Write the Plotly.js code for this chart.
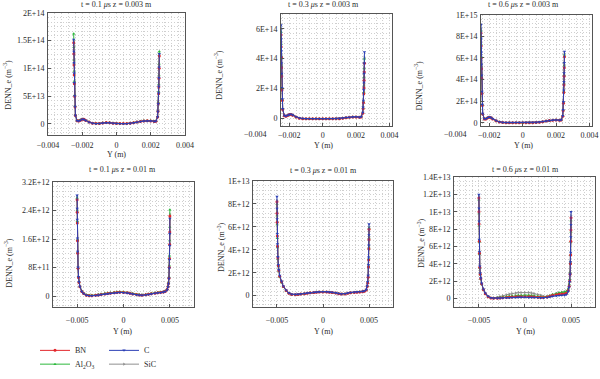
<!DOCTYPE html>
<html><head><meta charset="utf-8">
<script src="https://cdn.plot.ly/plotly-3.0.1.min.js"></script>
<style>html,body{margin:0;padding:0;background:#fff}#chart{width:600px;height:379px}</style>
</head><body><div id="chart"></div>
<script>
// ---------- data ----------
const seriesNames = ['BN', 'Al<sub>2</sub>O<sub>3</sub>', 'C', 'SiC'];
const seriesColors = ['#e3262b', '#2db83d', '#2b3fb5', '#8f8f8f'];
const seriesSymbols = ['circle', 'triangle-up', 'triangle-down', 'triangle-right'];
const panelTitles = [
  't = 0.1 <i>μ</i>s z = 0.003 m', 't = 0.3 <i>μ</i>s z = 0.003 m', 't = 0.6 <i>μ</i>s z = 0.003 m',
  't = 0.1 <i>μ</i>s z = 0.01 m', 't = 0.3 <i>μ</i>s z = 0.01 m', 't = 0.6 <i>μ</i>s z = 0.01 m'
];
const xTitle = 'Y (m)';
const yTitle = 'DENN_e (m<sup>−3</sup>)';

const xTop = [-0.0025, -0.00249, -0.00248, -0.00247, -0.00246, -0.00244, -0.00242, -0.0024, -0.0023, -0.0022, -0.0021, -0.002, -0.0019, -0.0018, -0.0016, -0.0014, -0.0012, -0.001, -0.0008, -0.0006, -0.0004, -0.0002, 0, 0.0002, 0.0004, 0.0006, 0.0008, 0.001, 0.0012, 0.0014, 0.0016, 0.0018, 0.002, 0.0022, 0.0023, 0.0024, 0.00242, 0.00244, 0.00246, 0.00247, 0.00248, 0.00249, 0.0025];
const xBottom = [-0.005, -0.00499, -0.00498, -0.00496, -0.00494, -0.0049, -0.00485, -0.0048, -0.0047, -0.0045, -0.0043, -0.004, -0.0037, -0.0034, -0.003, -0.0027, -0.0024, -0.002, -0.0017, -0.0014, -0.001, -0.0007, -0.0004, 0, 0.0004, 0.0007, 0.001, 0.0014, 0.0017, 0.002, 0.0024, 0.0027, 0.003, 0.0034, 0.0037, 0.004, 0.0043, 0.0045, 0.0047, 0.0048, 0.00485, 0.0049, 0.00494, 0.00496, 0.00498, 0.00499, 0.005];

// panel 1: t = 0.1 us, z = 0.003 m
const p1BN  = [14.6e13,12.6e13,10.6e13,8.8e13,7.2e13,4.9e13,3.0e13,1.5e13,0.55e13,0.5e13,0.65e13,0.8e13,0.8e13,0.6e13,0.3e13,0.1e13,0.02e13,0.05e13,0.15e13,0.2e13,0.18e13,0.1e13,0.04e13,0.02e13,0.02e13,0.03e13,0.08e13,0.18e13,0.3e13,0.42e13,0.5e13,0.52e13,0.5e13,0.42e13,0.45e13,1.2e13,2.2e13,3.6e13,5.4e13,6.6e13,8.2e13,10.0e13,12.2e13];
const p1Al  = [16.2e13,13.8e13,11.5e13,9.5e13,7.7e13,5.2e13,3.2e13,1.6e13,0.6e13,0.55e13,0.7e13,0.85e13,0.82e13,0.62e13,0.3e13,0.1e13,0.03e13,0.06e13,0.16e13,0.22e13,0.2e13,0.12e13,0.05e13,0.03e13,0.03e13,0.04e13,0.1e13,0.2e13,0.32e13,0.44e13,0.52e13,0.55e13,0.55e13,0.45e13,0.5e13,1.3e13,2.4e13,3.9e13,5.8e13,7.1e13,8.8e13,10.8e13,13.0e13];
const p1C   = [15.2e13,13.0e13,11.0e13,9.1e13,7.4e13,5.0e13,3.1e13,1.5e13,0.55e13,0.5e13,0.65e13,0.8e13,0.78e13,0.58e13,0.28e13,0.08e13,0.0,0.03e13,0.12e13,0.18e13,0.16e13,0.08e13,0.02e13,0.0,0.0,0.01e13,0.06e13,0.15e13,0.28e13,0.4e13,0.48e13,0.5e13,0.5e13,0.4e13,0.45e13,1.2e13,2.2e13,3.6e13,5.5e13,6.7e13,8.3e13,10.2e13,12.6e13];
const p1SiC = [14.9e13,12.8e13,10.8e13,9.0e13,7.3e13,5.0e13,3.1e13,1.5e13,0.55e13,0.5e13,0.65e13,0.8e13,0.8e13,0.6e13,0.3e13,0.1e13,0.02e13,0.05e13,0.15e13,0.2e13,0.18e13,0.1e13,0.04e13,0.02e13,0.02e13,0.03e13,0.08e13,0.18e13,0.3e13,0.42e13,0.5e13,0.52e13,0.52e13,0.42e13,0.45e13,1.2e13,2.3e13,3.7e13,5.6e13,6.8e13,8.5e13,10.4e13,12.5e13];

// panel 2: t = 0.3 us, z = 0.003 m
const p2BN  = [5.6e14,4.8e14,4.1e14,3.4e14,2.8e14,1.9e14,1.2e14,0.6e14,0.18e14,0.15e14,0.2e14,0.26e14,0.27e14,0.22e14,0.1e14,0.02e14,-0.01e14,-0.02e14,-0.02e14,-0.02e14,-0.02e14,-0.02e14,-0.02e14,-0.02e14,-0.02e14,-0.02e14,-0.02e14,-0.01e14,0.02e14,0.05e14,0.08e14,0.1e14,0.1e14,0.08e14,0.1e14,0.35e14,0.65e14,1.05e14,1.65e14,2.05e14,2.55e14,3.1e14,3.7e14];
const p2Al  = [5.8e14,5.0e14,4.2e14,3.5e14,2.9e14,2.0e14,1.25e14,0.62e14,0.18e14,0.15e14,0.2e14,0.26e14,0.27e14,0.22e14,0.1e14,0.02e14,-0.01e14,-0.02e14,-0.02e14,-0.02e14,-0.02e14,-0.02e14,-0.02e14,-0.02e14,-0.02e14,-0.02e14,-0.02e14,-0.01e14,0.02e14,0.05e14,0.08e14,0.1e14,0.1e14,0.08e14,0.1e14,0.38e14,0.7e14,1.1e14,1.75e14,2.2e14,2.75e14,3.35e14,4.0e14];
const p2C   = [6.25e14,5.3e14,4.5e14,3.7e14,3.0e14,2.05e14,1.3e14,0.65e14,0.2e14,0.16e14,0.21e14,0.27e14,0.28e14,0.23e14,0.11e14,0.03e14,0.0,-0.01e14,-0.01e14,-0.01e14,-0.01e14,-0.01e14,-0.01e14,-0.01e14,-0.01e14,-0.01e14,-0.01e14,0.0,0.03e14,0.06e14,0.09e14,0.11e14,0.11e14,0.09e14,0.11e14,0.4e14,0.75e14,1.2e14,1.9e14,2.4e14,3.0e14,3.7e14,4.45e14];
const p2SiC = [6.0e14,5.1e14,4.3e14,3.6e14,2.95e14,2.0e14,1.25e14,0.62e14,0.18e14,0.15e14,0.2e14,0.26e14,0.27e14,0.22e14,0.1e14,0.02e14,-0.01e14,-0.02e14,-0.02e14,-0.02e14,-0.02e14,-0.02e14,-0.02e14,-0.02e14,-0.02e14,-0.02e14,-0.02e14,-0.01e14,0.02e14,0.05e14,0.08e14,0.1e14,0.1e14,0.08e14,0.1e14,0.38e14,0.7e14,1.12e14,1.8e14,2.25e14,2.8e14,3.4e14,4.1e14];

// panel 3: t = 0.6 us, z = 0.003 m
const p3BN  = [8.3e14,7.1e14,6.0e14,5.0e14,4.1e14,2.7e14,1.6e14,0.8e14,0.35e14,0.35e14,0.45e14,0.5e14,0.45e14,0.35e14,0.18e14,0.07e14,0.02e14,0.0,0.0,0.0,0.0,0.0,0.0,0.0,0.0,0.0,0.02e14,0.05e14,0.1e14,0.15e14,0.2e14,0.24e14,0.25e14,0.22e14,0.25e14,0.6e14,1.1e14,1.8e14,2.8e14,3.5e14,4.3e14,5.1e14,6.1e14];
const p3Al  = [8.5e14,7.3e14,6.1e14,5.1e14,4.2e14,2.75e14,1.65e14,0.82e14,0.36e14,0.36e14,0.46e14,0.51e14,0.46e14,0.36e14,0.18e14,0.07e14,0.02e14,0.0,0.0,0.0,0.0,0.0,0.0,0.0,0.0,0.0,0.02e14,0.05e14,0.1e14,0.15e14,0.2e14,0.24e14,0.25e14,0.22e14,0.25e14,0.62e14,1.15e14,1.85e14,2.9e14,3.6e14,4.4e14,5.3e14,6.3e14];
const p3C   = [9.1e14,7.8e14,6.5e14,5.4e14,4.4e14,2.9e14,1.7e14,0.85e14,0.37e14,0.37e14,0.47e14,0.52e14,0.48e14,0.38e14,0.2e14,0.08e14,0.03e14,0.01e14,0.01e14,0.01e14,0.01e14,0.01e14,0.01e14,0.01e14,0.01e14,0.01e14,0.03e14,0.06e14,0.11e14,0.16e14,0.21e14,0.25e14,0.26e14,0.23e14,0.26e14,0.65e14,1.2e14,1.95e14,3.0e14,3.8e14,4.6e14,5.55e14,6.6e14];
const p3SiC = [8.7e14,7.5e14,6.3e14,5.2e14,4.3e14,2.8e14,1.65e14,0.82e14,0.35e14,0.35e14,0.45e14,0.5e14,0.46e14,0.36e14,0.18e14,0.07e14,0.02e14,0.0,0.0,0.0,0.0,0.0,0.0,0.0,0.0,0.0,0.02e14,0.05e14,0.1e14,0.15e14,0.2e14,0.24e14,0.25e14,0.22e14,0.25e14,0.62e14,1.15e14,1.9e14,2.95e14,3.7e14,4.5e14,5.4e14,6.4e14];

// panel 4: t = 0.1 us, z = 0.01 m
const p4BN  = [27e11,23.5e11,20.5e11,15.5e11,12e11,7.8e11,5.2e11,3.8e11,2.6e11,1.3e11,0.7e11,0.25e11,0.1e11,0.1e11,0.2e11,0.3e11,0.45e11,0.6e11,0.7e11,0.8e11,0.9e11,1.0e11,1.05e11,1.0e11,0.9e11,0.75e11,0.6e11,0.4e11,0.3e11,0.25e11,0.35e11,0.5e11,0.65e11,0.8e11,0.9e11,1.0e11,1.1e11,1.3e11,1.8e11,2.6e11,3.5e11,5.0e11,8.0e11,10.5e11,14.5e11,18.0e11,22.5e11];
const p4Al  = [27.5e11,24e11,21e11,15.8e11,12.2e11,7.9e11,5.3e11,3.9e11,2.7e11,1.4e11,0.8e11,0.35e11,0.2e11,0.2e11,0.3e11,0.45e11,0.6e11,0.75e11,0.85e11,0.95e11,1.05e11,1.15e11,1.2e11,1.15e11,1.0e11,0.85e11,0.7e11,0.5e11,0.4e11,0.35e11,0.45e11,0.6e11,0.75e11,0.9e11,1.0e11,1.1e11,1.2e11,1.4e11,1.9e11,2.8e11,3.8e11,5.4e11,8.6e11,11.3e11,15.6e11,19.4e11,24.2e11];
const p4C   = [28.3e11,24.6e11,21.5e11,16.2e11,12.5e11,8.1e11,5.4e11,4.0e11,2.7e11,1.3e11,0.7e11,0.2e11,0.05e11,0.05e11,0.15e11,0.25e11,0.4e11,0.55e11,0.65e11,0.75e11,0.85e11,0.95e11,1.0e11,0.95e11,0.85e11,0.7e11,0.55e11,0.35e11,0.25e11,0.2e11,0.3e11,0.45e11,0.6e11,0.75e11,0.85e11,0.95e11,1.05e11,1.25e11,1.7e11,2.5e11,3.4e11,4.9e11,7.8e11,10.2e11,14.1e11,17.5e11,21.8e11];
const p4SiC = [27.8e11,24.2e11,21.1e11,15.9e11,12.3e11,8.0e11,5.3e11,3.9e11,2.7e11,1.35e11,0.75e11,0.3e11,0.15e11,0.15e11,0.25e11,0.35e11,0.5e11,0.65e11,0.75e11,0.85e11,0.95e11,1.05e11,1.1e11,1.05e11,0.95e11,0.8e11,0.65e11,0.45e11,0.35e11,0.3e11,0.4e11,0.55e11,0.7e11,0.85e11,0.95e11,1.05e11,1.15e11,1.35e11,1.8e11,2.7e11,3.6e11,5.1e11,8.2e11,10.8e11,14.9e11,18.5e11,23.0e11];

// panel 5: t = 0.3 us, z = 0.01 m
const p5BN  = [8.2e12,7.2e12,6.4e12,5.2e12,4.3e12,3.3e12,2.6e12,2.2e12,1.7e12,1.2e12,0.8e12,0.45e12,0.2e12,0.1e12,0.08e12,0.1e12,0.13e12,0.17e12,0.2e12,0.24e12,0.27e12,0.3e12,0.31e12,0.32e12,0.31e12,0.29e12,0.27e12,0.22e12,0.17e12,0.13e12,0.15e12,0.2e12,0.25e12,0.28e12,0.3e12,0.32e12,0.34e12,0.38e12,0.5e12,0.8e12,1.1e12,1.6e12,2.5e12,3.1e12,4.1e12,4.9e12,5.8e12];
const p5Al  = [8.0e12,7.0e12,6.2e12,5.0e12,4.2e12,3.2e12,2.55e12,2.15e12,1.65e12,1.15e12,0.78e12,0.43e12,0.2e12,0.1e12,0.08e12,0.1e12,0.13e12,0.18e12,0.21e12,0.25e12,0.28e12,0.31e12,0.32e12,0.33e12,0.32e12,0.3e12,0.28e12,0.23e12,0.18e12,0.14e12,0.16e12,0.21e12,0.26e12,0.29e12,0.31e12,0.33e12,0.35e12,0.39e12,0.52e12,0.82e12,1.12e12,1.65e12,2.55e12,3.2e12,4.2e12,5.0e12,5.9e12];
const p5C   = [8.65e12,7.6e12,6.7e12,5.4e12,4.5e12,3.4e12,2.7e12,2.25e12,1.75e12,1.25e12,0.82e12,0.47e12,0.22e12,0.12e12,0.1e12,0.12e12,0.15e12,0.19e12,0.22e12,0.26e12,0.29e12,0.32e12,0.33e12,0.34e12,0.33e12,0.31e12,0.29e12,0.24e12,0.19e12,0.15e12,0.17e12,0.22e12,0.27e12,0.3e12,0.32e12,0.34e12,0.36e12,0.4e12,0.53e12,0.85e12,1.2e12,1.75e12,2.7e12,3.35e12,4.4e12,5.3e12,6.25e12];
const p5SiC = [8.3e12,7.3e12,6.5e12,5.2e12,4.3e12,3.3e12,2.6e12,2.2e12,1.7e12,1.2e12,0.8e12,0.45e12,0.2e12,0.1e12,0.08e12,0.1e12,0.13e12,0.17e12,0.2e12,0.24e12,0.27e12,0.3e12,0.31e12,0.32e12,0.31e12,0.29e12,0.27e12,0.22e12,0.17e12,0.13e12,0.15e12,0.2e12,0.25e12,0.28e12,0.3e12,0.32e12,0.34e12,0.38e12,0.5e12,0.8e12,1.15e12,1.7e12,2.6e12,3.2e12,4.25e12,5.1e12,6.0e12];

// panel 6: t = 0.6 us, z = 0.01 m
const p6BN  = [11.6e12,10.0e12,8.6e12,6.6e12,5.2e12,3.6e12,2.8e12,2.3e12,1.7e12,1.0e12,0.55e12,0.2e12,0.05e12,0.02e12,0.03e12,0.05e12,0.08e12,0.11e12,0.14e12,0.16e12,0.18e12,0.19e12,0.2e12,0.2e12,0.19e12,0.18e12,0.16e12,0.13e12,0.11e12,0.1e12,0.15e12,0.25e12,0.35e12,0.42e12,0.47e12,0.5e12,0.52e12,0.6e12,0.9e12,1.4e12,2.0e12,2.8e12,4.0e12,5.0e12,6.6e12,7.9e12,9.3e12];
const p6Al  = [11.4e12,9.8e12,8.4e12,6.5e12,5.1e12,3.5e12,2.75e12,2.25e12,1.65e12,1.0e12,0.55e12,0.22e12,0.06e12,0.04e12,0.08e12,0.12e12,0.17e12,0.23e12,0.27e12,0.31e12,0.34e12,0.36e12,0.37e12,0.37e12,0.36e12,0.34e12,0.3e12,0.24e12,0.19e12,0.15e12,0.2e12,0.32e12,0.45e12,0.56e12,0.64e12,0.7e12,0.74e12,0.8e12,1.1e12,1.6e12,2.2e12,3.0e12,4.1e12,5.0e12,6.5e12,7.7e12,9.0e12];
const p6C   = [12.0e12,10.4e12,8.9e12,6.8e12,5.4e12,3.7e12,2.9e12,2.35e12,1.75e12,1.05e12,0.6e12,0.25e12,0.08e12,0.03e12,0.02e12,0.03e12,0.05e12,0.07e12,0.08e12,0.1e12,0.11e12,0.12e12,0.12e12,0.12e12,0.11e12,0.1e12,0.09e12,0.07e12,0.06e12,0.06e12,0.1e12,0.18e12,0.25e12,0.3e12,0.33e12,0.35e12,0.37e12,0.45e12,0.8e12,1.3e12,1.9e12,2.8e12,4.2e12,5.3e12,7.1e12,8.5e12,10.0e12];
const p6SiC = [11.8e12,10.2e12,8.7e12,6.7e12,5.3e12,3.6e12,2.8e12,2.3e12,1.7e12,1.0e12,0.55e12,0.22e12,0.06e12,0.05e12,0.12e12,0.2e12,0.3e12,0.42e12,0.5e12,0.57e12,0.63e12,0.67e12,0.69e12,0.69e12,0.67e12,0.63e12,0.57e12,0.46e12,0.36e12,0.26e12,0.22e12,0.3e12,0.45e12,0.58e12,0.66e12,0.72e12,0.76e12,0.82e12,1.1e12,1.6e12,2.2e12,3.0e12,4.2e12,5.2e12,6.9e12,8.2e12,9.6e12];

// tick labels
const xTickTop = [-0.004, -0.002, 0, 0.002, 0.004];
const xTextTop = ['−0.004', '−0.002', '0', '0.002', '0.004'];
const xTickBottom = [-0.005, 0, 0.005];
const xTextBottom = ['−0.005', '0', '0.005'];
const yTick1 = [0, 5e13, 1e14, 1.5e14, 2e14];
const yText1 = ['0', '5E+13', '1E+14', '1.5E+14', '2E+14'];
const yTick2 = [0, 2e14, 4e14, 6e14];
const yText2 = ['0', '2E+14', '4E+14', '6E+14'];
const yTick3 = [0, 2e14, 4e14, 6e14, 8e14, 1e15];
const yText3 = ['0', '2E+14', '4E+14', '6E+14', '8E+14', '1E+15'];
const yTick4 = [0, 8e11, 1.6e12, 2.4e12, 3.2e12];
const yText4 = ['0', '8E+11', '1.6E+12', '2.4E+12', '3.2E+12'];
const yTick5 = [0, 2e12, 4e12, 6e12, 8e12, 1e13];
const yText5 = ['0', '2E+12', '4E+12', '6E+12', '8E+12', '1E+13'];
const yTick6 = [0, 2e12, 4e12, 6e12, 8e12, 1e13, 1.2e13, 1.4e13];
const yText6 = ['0', '2E+12', '4E+12', '6E+12', '8E+12', '1E+13', '1.2E+13', '1.4E+13'];

// ---------- layout helpers ----------
const W = 600, H = 379;
const FONT = 'Liberation Serif, Times New Roman, serif';
const TXT = '#2a2a2a';
const px = v => v / W;
const py = v => (H - v) / H;

const panels = [
  {x: xTop, s: [p1BN, p1Al, p1C, p1SiC], box: [48, 185, 13, 137], xr: [-0.004, 0.004], yr: [-2e13, 2e14],
   xt: xTickTop, xl: xTextTop, yt: yTick1, yl: yText1, xm: 0.0004, ym: 5e13 / 6, so: 3,
   title: [116, 5], ytitle: [7, 86], xtitle: [116, 157]},
  {x: xTop, s: [p2BN, p2Al, p2C, p2SiC], box: [281, 392, 14, 128], xr: [-0.0025, 0.00415], yr: [-5e13, 7e14],
   xt: xTickTop, xl: xTextTop, yt: yTick2, yl: yText2, xm: 0.0004, ym: 2e14 / 6, so: 1,
   title: [323, 5], ytitle: [218, 76], xtitle: [323, 148]},
  {x: xTop, s: [p3BN, p3Al, p3C, p3SiC], box: [481, 592, 15, 128], xr: [-0.0025, 0.00415], yr: [-3e13, 1e15],
   xt: xTickTop, xl: xTextTop, yt: yTick3, yl: yText3, xm: 0.0004, ym: 4e13, so: 1,
   title: [523, 5], ytitle: [418, 87], xtitle: [523, 148]},
  {x: xBottom, s: [p4BN, p4Al, p4C, p4SiC], box: [53, 194, 185, 312], xr: [-0.0076, 0.0076], yr: [-3.1e11, 3.2e12],
   xt: xTickBottom, xl: xTextBottom, yt: yTick4, yl: yText4, xm: 0.005 / 7, ym: 8e11 / 6, so: 5,
   title: [123, 172], ytitle: [8, 267], xtitle: [123, 337]},
  {x: xBottom, s: [p5BN, p5Al, p5C, p5SiC], box: [253, 393, 184, 312], xr: [-0.0076, 0.0076], yr: [-1e12, 1e13],
   xt: xTickBottom, xl: xTextBottom, yt: yTick5, yl: yText5, xm: 0.005 / 7, ym: 4e11, so: 5,
   title: [323, 173], ytitle: [221, 251], xtitle: [323, 337]},
  {x: xBottom, s: [p6BN, p6Al, p6C, p6SiC], box: [454, 595, 180, 312], xr: [-0.0077, 0.0076], yr: [-1e12, 1.4e13],
   xt: xTickBottom, xl: xTextBottom, yt: yTick6, yl: yText6, xm: 0.005 / 7, ym: 5e11, so: 5,
   title: [525, 172], ytitle: [421, 247], xtitle: [525, 337]}
];

const drawOrder = [3, 1, 0, 2]; // SiC, Al2O3, BN, C (C drawn on top)
// one single-entry legend per series, placed like the reference's 2x2 key
const legendIds = ['legend', 'legend3', 'legend2', 'legend4'];
const legendPos = [[35, 356], [35, 370], [104, 356], [104, 370]];

const gridStyle = {showgrid: true, gridcolor: '#cfcfcf', gridwidth: 1, griddash: '1px,2px'};

const traces = [];
const layout = {
  width: W, height: H, margin: {l: 0, r: 0, t: 0, b: 0},
  paper_bgcolor: '#fff', plot_bgcolor: '#fff',
  font: {family: FONT, size: 8, color: TXT},
  annotations: [], showlegend: true
};
legendIds.forEach((id, k) => {
  layout[id] = {orientation: 'h', x: px(legendPos[k][0]), xanchor: 'left', y: py(legendPos[k][1]), yanchor: 'middle',
    font: {family: FONT, size: 8, color: TXT}, bgcolor: 'rgba(0,0,0,0)', borderwidth: 0, itemwidth: 30};
});

panels.forEach((p, i) => {
  const n = i + 1;
  const xa = 'xaxis' + (n === 1 ? '' : n), ya = 'yaxis' + (n === 1 ? '' : n);
  const xid = 'x' + (n === 1 ? '' : n), yid = 'y' + (n === 1 ? '' : n);
  layout[xa] = Object.assign({
    domain: [px(p.box[0]), px(p.box[1])], anchor: yid, range: p.xr,
    tickmode: 'array', tickvals: p.xt, ticktext: p.xl, ticks: 'inside', ticklen: 3, tickcolor: '#555',
    showline: true, mirror: true, linecolor: '#555', linewidth: 1, zeroline: false,
    tickfont: {family: FONT, size: 8, color: TXT}, ticklabelstandoff: p.so,
    minor: Object.assign({tick0: 0, dtick: p.xm}, gridStyle), fixedrange: true
  }, gridStyle);
  layout[ya] = Object.assign({
    domain: [py(p.box[3]), py(p.box[2])], anchor: xid, range: p.yr,
    tickmode: 'array', tickvals: p.yt, ticktext: p.yl, ticks: 'inside', ticklen: 3, tickcolor: '#555',
    showline: true, mirror: true, linecolor: '#555', linewidth: 1, zeroline: false,
    tickfont: {family: FONT, size: 8, color: TXT}, ticklabelstandoff: 1,
    minor: Object.assign({tick0: 0, dtick: p.ym}, gridStyle), fixedrange: true
  }, gridStyle);

  drawOrder.forEach(k => {
    traces.push({
      type: 'scatter', mode: 'lines+markers', x: p.x, y: p.s[k], xaxis: xid, yaxis: yid,
      name: seriesNames[k], legend: legendIds[k], showlegend: i === 0,
      line: {color: seriesColors[k], width: 1},
      marker: {color: seriesColors[k], symbol: seriesSymbols[k], size: 3, line: {width: 0}},
      hoverinfo: 'skip'
    });
  });

  // tick labels that lie left of the clipped frame (panels 2, 3)
  p.xt.forEach((t, j) => {
    if (t < p.xr[0]) {
      layout.annotations.push({xref: xid + ' domain', yref: yid + ' domain',
        x: (t - p.xr[0]) / (p.xr[1] - p.xr[0]), y: 0, yshift: -p.so - 1, xanchor: 'center', yanchor: 'top',
        text: p.xl[j], showarrow: false, font: {family: FONT, size: 8, color: TXT}});
    }
  });

  layout.annotations.push({xref: 'paper', yref: 'paper', x: px(p.title[0]), y: py(p.title[1]),
    xanchor: 'center', yanchor: 'middle', text: panelTitles[i], showarrow: false,
    font: {family: FONT, size: 8, color: TXT}});
  layout.annotations.push({xref: 'paper', yref: 'paper', x: px(p.ytitle[0]), y: py(p.ytitle[1]),
    xanchor: 'center', yanchor: 'middle', text: yTitle, textangle: -90, showarrow: false,
    font: {family: FONT, size: 8, color: TXT}});
  layout.annotations.push({xref: 'paper', yref: 'paper', x: px(p.xtitle[0]), y: py(p.xtitle[1]),
    xanchor: 'center', yanchor: 'middle', text: xTitle, showarrow: false,
    font: {family: FONT, size: 8, color: TXT}});
});

Plotly.newPlot('chart', traces, layout, {displayModeBar: false, staticPlot: true});
</script>
</body></html>
